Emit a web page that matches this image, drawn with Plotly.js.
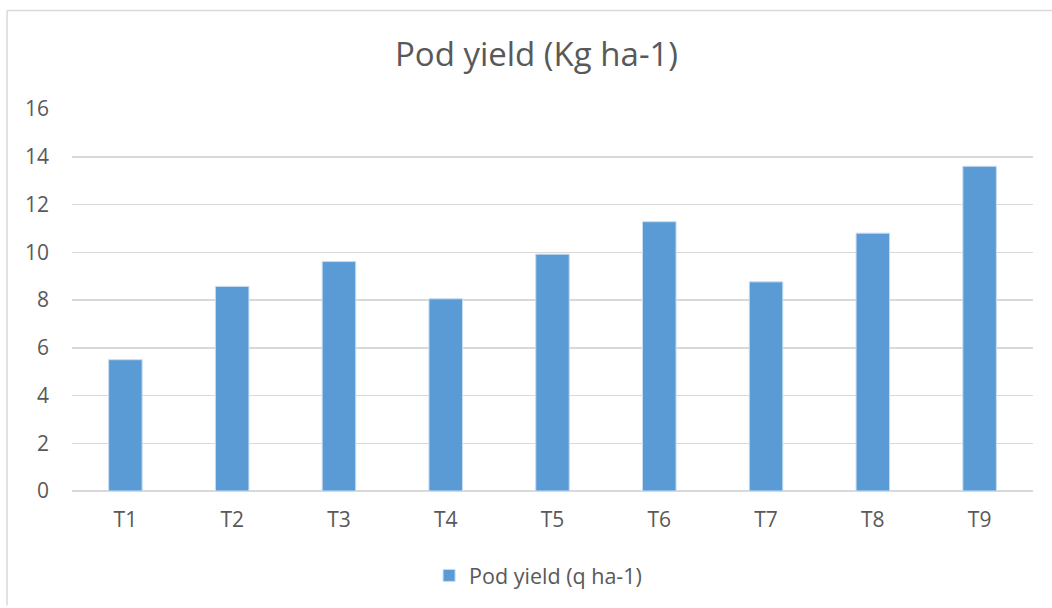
<!DOCTYPE html>
<html>
<head>
<meta charset="utf-8">
<script src="https://cdn.plot.ly/plotly-3.0.1.min.js"></script>
<style>html,body{margin:0;padding:0;background:#fff;}#chart{width:1052px;height:608px;}</style>
</head>
<body>
<div id="chart"></div>
<script>
const categories = ["T1","T2","T3","T4","T5","T6","T7","T8","T9"];
const podYield = [5.5, 8.57, 9.61, 8.05, 9.92, 11.28, 8.76, 10.8, 13.6];
const seriesName = "Pod yield (q ha-1)";
const chartTitle = "Pod yield (Kg ha-1)";
const yTicks = [0, 2, 4, 6, 8, 10, 12, 14, 16];

const font = "'Open Sans', sans-serif";
const trace = {
  type: "bar",
  x: categories,
  y: podYield,
  name: seriesName,
  marker: {color: "#5b9bd5", line: {color: "#c9dcf0", width: 1}},
  showlegend: true
};
const layout = {
  width: 1052, height: 608,
  margin: {l: 72, r: 19, t: 109, b: 115},
  paper_bgcolor: "#fff", plot_bgcolor: "#fff",
  bargap: 0.686,
  title: {text: chartTitle, x: 0.51, xanchor: "center", y: 0.91, yanchor: "middle",
          font: {family: font, size: 33, color: "#595959"}},
  xaxis: {showgrid: false, showline: false, zeroline: false, ticks: "",
          tickfont: {family: font, size: 21, color: "#595959"}, ticklabelstandoff: 14},
  yaxis: {range: [0, 16], tickvals: yTicks, showgrid: true, gridcolor: "#d9d9d9", gridwidth: 1.5,
          zeroline: true, zerolinecolor: "#d9d9d9", zerolinewidth: 1.5, showline: false, ticks: "",
          tickfont: {family: font, size: 21, color: "#595959"}, ticklabelstandoff: 22},
  legend: {orientation: "h", x: 0.485, xanchor: "center", y: -0.221, yanchor: "middle",
           font: {family: font, size: 21.5, color: "#595959"}},
  shapes: [
    {type: "line", xref: "paper", yref: "paper", x0: -0.0676, x1: 1.02, y0: 1.2578, y1: 1.2578,
     line: {color: "#d9d9d9", width: 1.5}},
    {type: "line", xref: "paper", yref: "paper", x0: -0.0676, x1: -0.0676, y0: -0.3, y1: 1.2578,
     line: {color: "#d9d9d9", width: 1.5}}
  ]
};
Plotly.newPlot("chart", [trace], layout, {displayModeBar: false, staticPlot: true});
</script>
</body>
</html>
